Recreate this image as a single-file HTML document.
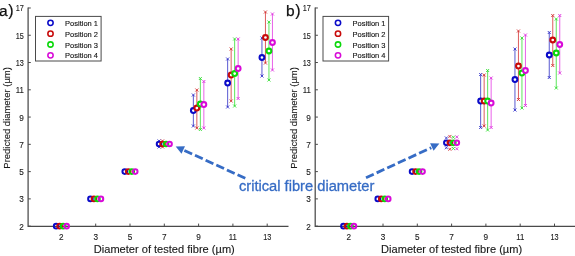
<!DOCTYPE html>
<html><head><meta charset="utf-8"><title>Predicted vs tested fibre diameter</title>
<style>
html,body{margin:0;padding:0;background:#fff;}
body{width:575px;height:256px;overflow:hidden;font-family:"Liberation Sans",sans-serif;}
svg{display:block;will-change:transform;transform:translateZ(0);font-family:"Liberation Sans",sans-serif;}
</style></head><body>
<svg width="575" height="256" viewBox="0 0 575 256">
<rect width="575" height="256" fill="#fff"/>
<path d="M28.1 7.49V226.3H288.5" fill="none" stroke="#4a4a4a" stroke-width="1.25"/>
<path d="M28.1 226.15h2.7" stroke="#4a4a4a" stroke-width="1"/>
<path d="M28.1 198.88h2.7" stroke="#4a4a4a" stroke-width="1"/>
<path d="M28.1 171.61h2.7" stroke="#4a4a4a" stroke-width="1"/>
<path d="M28.1 144.34h2.7" stroke="#4a4a4a" stroke-width="1"/>
<path d="M28.1 117.07h2.7" stroke="#4a4a4a" stroke-width="1"/>
<path d="M28.1 89.80h2.7" stroke="#4a4a4a" stroke-width="1"/>
<path d="M28.1 62.53h2.7" stroke="#4a4a4a" stroke-width="1"/>
<path d="M28.1 35.26h2.7" stroke="#4a4a4a" stroke-width="1"/>
<path d="M28.1 7.99h2.7" stroke="#4a4a4a" stroke-width="1"/>
<path d="M61.40 226.3v-2.7" stroke="#4a4a4a" stroke-width="1"/>
<path d="M95.70 226.3v-2.7" stroke="#4a4a4a" stroke-width="1"/>
<path d="M130.00 226.3v-2.7" stroke="#4a4a4a" stroke-width="1"/>
<path d="M164.30 226.3v-2.7" stroke="#4a4a4a" stroke-width="1"/>
<path d="M198.60 226.3v-2.7" stroke="#4a4a4a" stroke-width="1"/>
<path d="M232.90 226.3v-2.7" stroke="#4a4a4a" stroke-width="1"/>
<path d="M267.20 226.3v-2.7" stroke="#4a4a4a" stroke-width="1"/>
<text x="23.8" y="229.65" text-anchor="end" font-size="8.2" fill="#1a1a1a" stroke="#1a1a1a" stroke-width="0.12">2</text>
<text x="23.8" y="202.38" text-anchor="end" font-size="8.2" fill="#1a1a1a" stroke="#1a1a1a" stroke-width="0.12">3</text>
<text x="23.8" y="175.11" text-anchor="end" font-size="8.2" fill="#1a1a1a" stroke="#1a1a1a" stroke-width="0.12">5</text>
<text x="23.8" y="147.84" text-anchor="end" font-size="8.2" fill="#1a1a1a" stroke="#1a1a1a" stroke-width="0.12">7</text>
<text x="23.8" y="120.57" text-anchor="end" font-size="8.2" fill="#1a1a1a" stroke="#1a1a1a" stroke-width="0.12">9</text>
<text x="23.8" y="93.30" text-anchor="end" font-size="8.2" fill="#1a1a1a" stroke="#1a1a1a" stroke-width="0.12" textLength="8.1" lengthAdjust="spacingAndGlyphs">11</text>
<text x="23.8" y="66.03" text-anchor="end" font-size="8.2" fill="#1a1a1a" stroke="#1a1a1a" stroke-width="0.12" textLength="8.1" lengthAdjust="spacingAndGlyphs">13</text>
<text x="23.8" y="38.76" text-anchor="end" font-size="8.2" fill="#1a1a1a" stroke="#1a1a1a" stroke-width="0.12" textLength="8.1" lengthAdjust="spacingAndGlyphs">15</text>
<text x="23.8" y="11.49" text-anchor="end" font-size="8.2" fill="#1a1a1a" stroke="#1a1a1a" stroke-width="0.12" textLength="8.1" lengthAdjust="spacingAndGlyphs">17</text>
<text x="61.40" y="239.9" text-anchor="middle" font-size="8.2" fill="#1a1a1a" stroke="#1a1a1a" stroke-width="0.12">2</text>
<text x="95.70" y="239.9" text-anchor="middle" font-size="8.2" fill="#1a1a1a" stroke="#1a1a1a" stroke-width="0.12">3</text>
<text x="130.00" y="239.9" text-anchor="middle" font-size="8.2" fill="#1a1a1a" stroke="#1a1a1a" stroke-width="0.12">5</text>
<text x="164.30" y="239.9" text-anchor="middle" font-size="8.2" fill="#1a1a1a" stroke="#1a1a1a" stroke-width="0.12">7</text>
<text x="198.60" y="239.9" text-anchor="middle" font-size="8.2" fill="#1a1a1a" stroke="#1a1a1a" stroke-width="0.12">9</text>
<text x="232.90" y="239.9" text-anchor="middle" font-size="8.2" fill="#1a1a1a" stroke="#1a1a1a" stroke-width="0.12" textLength="8.1" lengthAdjust="spacingAndGlyphs">11</text>
<text x="267.20" y="239.9" text-anchor="middle" font-size="8.2" fill="#1a1a1a" stroke="#1a1a1a" stroke-width="0.12" textLength="8.1" lengthAdjust="spacingAndGlyphs">13</text>
<text x="164.30" y="253.0" text-anchor="middle" font-size="10.2" fill="#1a1a1a" stroke="#1a1a1a" stroke-width="0.12" textLength="141" lengthAdjust="spacingAndGlyphs">Diameter of tested fibre (µm)</text>
<text transform="translate(10.3 117.9) rotate(-90)" text-anchor="middle" font-size="9.2" fill="#1a1a1a" stroke="#1a1a1a" stroke-width="0.12" textLength="101.5" lengthAdjust="spacingAndGlyphs">Predicted diameter (µm)</text>
<text x="-1.0" y="15.6" font-size="15.5" fill="#111" stroke="#111" stroke-width="0.25">a</text>
<text x="8.3" y="15.9" font-size="16" fill="#111" stroke="#111" stroke-width="0.2">)</text>
<path d="M193.35 95V126" stroke="#4646cc" stroke-width="0.9"/>
<path d="M191.85 93.5l3 3m0 -3l-3 3" stroke="#2828c8" stroke-width="0.85" fill="none"/>
<path d="M191.85 124.5l3 3m0 -3l-3 3" stroke="#2828c8" stroke-width="0.85" fill="none"/>
<path d="M196.85 90V128" stroke="#d84a4a" stroke-width="0.9"/>
<path d="M195.35 88.5l3 3m0 -3l-3 3" stroke="#d02828" stroke-width="0.85" fill="none"/>
<path d="M195.35 126.5l3 3m0 -3l-3 3" stroke="#d02828" stroke-width="0.85" fill="none"/>
<path d="M200.35 78.5V129.5" stroke="#4ae24a" stroke-width="0.9"/>
<path d="M198.85 77.0l3 3m0 -3l-3 3" stroke="#28dc28" stroke-width="0.85" fill="none"/>
<path d="M198.85 128.0l3 3m0 -3l-3 3" stroke="#28dc28" stroke-width="0.85" fill="none"/>
<path d="M203.85 81.5V128" stroke="#e650e6" stroke-width="0.9"/>
<path d="M202.35 80.0l3 3m0 -3l-3 3" stroke="#dc28dc" stroke-width="0.85" fill="none"/>
<path d="M202.35 126.5l3 3m0 -3l-3 3" stroke="#dc28dc" stroke-width="0.85" fill="none"/>
<path d="M227.65 59V107" stroke="#4646cc" stroke-width="0.9"/>
<path d="M226.15 57.5l3 3m0 -3l-3 3" stroke="#2828c8" stroke-width="0.85" fill="none"/>
<path d="M226.15 105.5l3 3m0 -3l-3 3" stroke="#2828c8" stroke-width="0.85" fill="none"/>
<path d="M231.15 49V101" stroke="#d84a4a" stroke-width="0.9"/>
<path d="M229.65 47.5l3 3m0 -3l-3 3" stroke="#d02828" stroke-width="0.85" fill="none"/>
<path d="M229.65 99.5l3 3m0 -3l-3 3" stroke="#d02828" stroke-width="0.85" fill="none"/>
<path d="M234.65 39V106" stroke="#4ae24a" stroke-width="0.9"/>
<path d="M233.15 37.5l3 3m0 -3l-3 3" stroke="#28dc28" stroke-width="0.85" fill="none"/>
<path d="M233.15 104.5l3 3m0 -3l-3 3" stroke="#28dc28" stroke-width="0.85" fill="none"/>
<path d="M238.15 39V98.5" stroke="#e650e6" stroke-width="0.9"/>
<path d="M236.65 37.5l3 3m0 -3l-3 3" stroke="#dc28dc" stroke-width="0.85" fill="none"/>
<path d="M236.65 97.0l3 3m0 -3l-3 3" stroke="#dc28dc" stroke-width="0.85" fill="none"/>
<path d="M261.95 38V76" stroke="#4646cc" stroke-width="0.9"/>
<path d="M260.45 36.5l3 3m0 -3l-3 3" stroke="#2828c8" stroke-width="0.85" fill="none"/>
<path d="M260.45 74.5l3 3m0 -3l-3 3" stroke="#2828c8" stroke-width="0.85" fill="none"/>
<path d="M265.45 12V63" stroke="#d84a4a" stroke-width="0.9"/>
<path d="M263.95 10.5l3 3m0 -3l-3 3" stroke="#d02828" stroke-width="0.85" fill="none"/>
<path d="M263.95 61.5l3 3m0 -3l-3 3" stroke="#d02828" stroke-width="0.85" fill="none"/>
<path d="M268.95 22V80" stroke="#4ae24a" stroke-width="0.9"/>
<path d="M267.45 20.5l3 3m0 -3l-3 3" stroke="#28dc28" stroke-width="0.85" fill="none"/>
<path d="M267.45 78.5l3 3m0 -3l-3 3" stroke="#28dc28" stroke-width="0.85" fill="none"/>
<path d="M272.45 14V70" stroke="#e650e6" stroke-width="0.9"/>
<path d="M270.95 12.5l3 3m0 -3l-3 3" stroke="#dc28dc" stroke-width="0.85" fill="none"/>
<path d="M270.95 68.5l3 3m0 -3l-3 3" stroke="#dc28dc" stroke-width="0.85" fill="none"/>
<path d="M157.55 139.44l3 3m0 -3l-3 3" stroke="#2828c8" stroke-width="0.85" fill="none"/>
<path d="M157.55 145.44l3 3m0 -3l-3 3" stroke="#2828c8" stroke-width="0.85" fill="none"/>
<path d="M161.05 139.44l3 3m0 -3l-3 3" stroke="#d02828" stroke-width="0.85" fill="none"/>
<path d="M161.05 145.44l3 3m0 -3l-3 3" stroke="#d02828" stroke-width="0.85" fill="none"/>
<circle cx="56.15" cy="226.15" r="2.3" fill="none" stroke="#0a0ac8" stroke-width="2.0"/>
<circle cx="59.65" cy="226.15" r="2.3" fill="none" stroke="#c80a0a" stroke-width="2.0"/>
<circle cx="63.15" cy="226.15" r="2.3" fill="none" stroke="#0ad80a" stroke-width="2.0"/>
<circle cx="66.65" cy="226.15" r="2.3" fill="none" stroke="#d80ad8" stroke-width="2.0"/>
<circle cx="90.45" cy="198.88" r="2.3" fill="none" stroke="#0a0ac8" stroke-width="2.0"/>
<circle cx="93.95" cy="198.88" r="2.3" fill="none" stroke="#c80a0a" stroke-width="2.0"/>
<circle cx="97.45" cy="198.88" r="2.3" fill="none" stroke="#0ad80a" stroke-width="2.0"/>
<circle cx="100.95" cy="198.88" r="2.3" fill="none" stroke="#d80ad8" stroke-width="2.0"/>
<circle cx="124.75" cy="171.61" r="2.3" fill="none" stroke="#0a0ac8" stroke-width="2.0"/>
<circle cx="128.25" cy="171.61" r="2.3" fill="none" stroke="#c80a0a" stroke-width="2.0"/>
<circle cx="131.75" cy="171.61" r="2.3" fill="none" stroke="#0ad80a" stroke-width="2.0"/>
<circle cx="135.25" cy="171.61" r="2.3" fill="none" stroke="#d80ad8" stroke-width="2.0"/>
<circle cx="159.05" cy="143.94" r="2.3" fill="none" stroke="#0a0ac8" stroke-width="2.0"/>
<circle cx="162.55" cy="143.94" r="2.3" fill="none" stroke="#c80a0a" stroke-width="2.0"/>
<circle cx="166.05" cy="143.94" r="2.3" fill="none" stroke="#0ad80a" stroke-width="2.0"/>
<circle cx="169.55" cy="143.94" r="2.3" fill="none" stroke="#d80ad8" stroke-width="2.0"/>
<circle cx="193.35" cy="110.5" r="2.4" fill="#fff" stroke="#0a0ac8" stroke-width="2.05"/>
<circle cx="196.85" cy="108" r="2.4" fill="#fff" stroke="#c80a0a" stroke-width="2.05"/>
<circle cx="200.35" cy="104" r="2.4" fill="#fff" stroke="#0ad80a" stroke-width="2.05"/>
<circle cx="203.85" cy="104.5" r="2.4" fill="#fff" stroke="#d80ad8" stroke-width="2.05"/>
<circle cx="227.65" cy="83" r="2.4" fill="#fff" stroke="#0a0ac8" stroke-width="2.05"/>
<circle cx="231.15" cy="75" r="2.4" fill="#fff" stroke="#c80a0a" stroke-width="2.05"/>
<circle cx="234.65" cy="73.5" r="2.4" fill="#fff" stroke="#0ad80a" stroke-width="2.05"/>
<circle cx="238.15" cy="68.5" r="2.4" fill="#fff" stroke="#d80ad8" stroke-width="2.05"/>
<circle cx="261.95" cy="57.5" r="2.4" fill="#fff" stroke="#0a0ac8" stroke-width="2.05"/>
<circle cx="265.45" cy="37.5" r="2.4" fill="#fff" stroke="#c80a0a" stroke-width="2.05"/>
<circle cx="268.95" cy="51" r="2.4" fill="#fff" stroke="#0ad80a" stroke-width="2.05"/>
<circle cx="272.45" cy="42.5" r="2.4" fill="#fff" stroke="#d80ad8" stroke-width="2.05"/>
<rect x="35.5" y="16.4" width="65.6" height="44.6" fill="#fff" stroke="#4a4a4a" stroke-width="1"/>
<circle cx="50.5" cy="22.80" r="2.65" fill="none" stroke="#0a0ac8" stroke-width="1.55"/>
<text x="65.1" y="25.80" font-size="7.5" fill="#111" stroke="#111" stroke-width="0.12">Position 1</text>
<circle cx="50.5" cy="33.65" r="2.65" fill="none" stroke="#c80a0a" stroke-width="1.55"/>
<text x="65.1" y="36.65" font-size="7.5" fill="#111" stroke="#111" stroke-width="0.12">Position 2</text>
<circle cx="50.5" cy="44.50" r="2.65" fill="none" stroke="#0ad80a" stroke-width="1.55"/>
<text x="65.1" y="47.50" font-size="7.5" fill="#111" stroke="#111" stroke-width="0.12">Position 3</text>
<circle cx="50.5" cy="55.35" r="2.65" fill="none" stroke="#d80ad8" stroke-width="1.55"/>
<text x="65.1" y="58.35" font-size="7.5" fill="#111" stroke="#111" stroke-width="0.12">Position 4</text>
<path d="M315.2 7.49V226.3H575" fill="none" stroke="#4a4a4a" stroke-width="1.25"/>
<path d="M315.2 226.15h2.7" stroke="#4a4a4a" stroke-width="1"/>
<path d="M315.2 198.88h2.7" stroke="#4a4a4a" stroke-width="1"/>
<path d="M315.2 171.61h2.7" stroke="#4a4a4a" stroke-width="1"/>
<path d="M315.2 144.34h2.7" stroke="#4a4a4a" stroke-width="1"/>
<path d="M315.2 117.07h2.7" stroke="#4a4a4a" stroke-width="1"/>
<path d="M315.2 89.80h2.7" stroke="#4a4a4a" stroke-width="1"/>
<path d="M315.2 62.53h2.7" stroke="#4a4a4a" stroke-width="1"/>
<path d="M315.2 35.26h2.7" stroke="#4a4a4a" stroke-width="1"/>
<path d="M315.2 7.99h2.7" stroke="#4a4a4a" stroke-width="1"/>
<path d="M348.70 226.3v-2.7" stroke="#4a4a4a" stroke-width="1"/>
<path d="M383.00 226.3v-2.7" stroke="#4a4a4a" stroke-width="1"/>
<path d="M417.30 226.3v-2.7" stroke="#4a4a4a" stroke-width="1"/>
<path d="M451.60 226.3v-2.7" stroke="#4a4a4a" stroke-width="1"/>
<path d="M485.90 226.3v-2.7" stroke="#4a4a4a" stroke-width="1"/>
<path d="M520.20 226.3v-2.7" stroke="#4a4a4a" stroke-width="1"/>
<path d="M554.50 226.3v-2.7" stroke="#4a4a4a" stroke-width="1"/>
<text x="310.9" y="229.65" text-anchor="end" font-size="8.2" fill="#1a1a1a" stroke="#1a1a1a" stroke-width="0.12">2</text>
<text x="310.9" y="202.38" text-anchor="end" font-size="8.2" fill="#1a1a1a" stroke="#1a1a1a" stroke-width="0.12">3</text>
<text x="310.9" y="175.11" text-anchor="end" font-size="8.2" fill="#1a1a1a" stroke="#1a1a1a" stroke-width="0.12">5</text>
<text x="310.9" y="147.84" text-anchor="end" font-size="8.2" fill="#1a1a1a" stroke="#1a1a1a" stroke-width="0.12">7</text>
<text x="310.9" y="120.57" text-anchor="end" font-size="8.2" fill="#1a1a1a" stroke="#1a1a1a" stroke-width="0.12">9</text>
<text x="310.9" y="93.30" text-anchor="end" font-size="8.2" fill="#1a1a1a" stroke="#1a1a1a" stroke-width="0.12" textLength="8.1" lengthAdjust="spacingAndGlyphs">11</text>
<text x="310.9" y="66.03" text-anchor="end" font-size="8.2" fill="#1a1a1a" stroke="#1a1a1a" stroke-width="0.12" textLength="8.1" lengthAdjust="spacingAndGlyphs">13</text>
<text x="310.9" y="38.76" text-anchor="end" font-size="8.2" fill="#1a1a1a" stroke="#1a1a1a" stroke-width="0.12" textLength="8.1" lengthAdjust="spacingAndGlyphs">15</text>
<text x="310.9" y="11.49" text-anchor="end" font-size="8.2" fill="#1a1a1a" stroke="#1a1a1a" stroke-width="0.12" textLength="8.1" lengthAdjust="spacingAndGlyphs">17</text>
<text x="348.70" y="239.9" text-anchor="middle" font-size="8.2" fill="#1a1a1a" stroke="#1a1a1a" stroke-width="0.12">2</text>
<text x="383.00" y="239.9" text-anchor="middle" font-size="8.2" fill="#1a1a1a" stroke="#1a1a1a" stroke-width="0.12">3</text>
<text x="417.30" y="239.9" text-anchor="middle" font-size="8.2" fill="#1a1a1a" stroke="#1a1a1a" stroke-width="0.12">5</text>
<text x="451.60" y="239.9" text-anchor="middle" font-size="8.2" fill="#1a1a1a" stroke="#1a1a1a" stroke-width="0.12">7</text>
<text x="485.90" y="239.9" text-anchor="middle" font-size="8.2" fill="#1a1a1a" stroke="#1a1a1a" stroke-width="0.12">9</text>
<text x="520.20" y="239.9" text-anchor="middle" font-size="8.2" fill="#1a1a1a" stroke="#1a1a1a" stroke-width="0.12" textLength="8.1" lengthAdjust="spacingAndGlyphs">11</text>
<text x="554.50" y="239.9" text-anchor="middle" font-size="8.2" fill="#1a1a1a" stroke="#1a1a1a" stroke-width="0.12" textLength="8.1" lengthAdjust="spacingAndGlyphs">13</text>
<text x="451.60" y="253.0" text-anchor="middle" font-size="10.2" fill="#1a1a1a" stroke="#1a1a1a" stroke-width="0.12" textLength="141" lengthAdjust="spacingAndGlyphs">Diameter of tested fibre (µm)</text>
<text transform="translate(297.0 117.9) rotate(-90)" text-anchor="middle" font-size="9.2" fill="#1a1a1a" stroke="#1a1a1a" stroke-width="0.12" textLength="101.5" lengthAdjust="spacingAndGlyphs">Predicted diameter (µm)</text>
<text x="286.0" y="15.6" font-size="15.5" fill="#111" stroke="#111" stroke-width="0.25">b</text>
<text x="295.3" y="15.9" font-size="16" fill="#111" stroke="#111" stroke-width="0.2">)</text>
<path d="M480.65 74.5V127.5" stroke="#4646cc" stroke-width="0.9"/>
<path d="M479.15 73.0l3 3m0 -3l-3 3" stroke="#2828c8" stroke-width="0.85" fill="none"/>
<path d="M479.15 126.0l3 3m0 -3l-3 3" stroke="#2828c8" stroke-width="0.85" fill="none"/>
<path d="M484.15 75V126" stroke="#d84a4a" stroke-width="0.9"/>
<path d="M482.65 73.5l3 3m0 -3l-3 3" stroke="#d02828" stroke-width="0.85" fill="none"/>
<path d="M482.65 124.5l3 3m0 -3l-3 3" stroke="#d02828" stroke-width="0.85" fill="none"/>
<path d="M487.65 70.5V130" stroke="#4ae24a" stroke-width="0.9"/>
<path d="M486.15 69.0l3 3m0 -3l-3 3" stroke="#28dc28" stroke-width="0.85" fill="none"/>
<path d="M486.15 128.5l3 3m0 -3l-3 3" stroke="#28dc28" stroke-width="0.85" fill="none"/>
<path d="M491.15 78V127.5" stroke="#e650e6" stroke-width="0.9"/>
<path d="M489.65 76.5l3 3m0 -3l-3 3" stroke="#dc28dc" stroke-width="0.85" fill="none"/>
<path d="M489.65 126.0l3 3m0 -3l-3 3" stroke="#dc28dc" stroke-width="0.85" fill="none"/>
<path d="M514.95 49V110" stroke="#4646cc" stroke-width="0.9"/>
<path d="M513.45 47.5l3 3m0 -3l-3 3" stroke="#2828c8" stroke-width="0.85" fill="none"/>
<path d="M513.45 108.5l3 3m0 -3l-3 3" stroke="#2828c8" stroke-width="0.85" fill="none"/>
<path d="M518.45 31V99.5" stroke="#d84a4a" stroke-width="0.9"/>
<path d="M516.95 29.5l3 3m0 -3l-3 3" stroke="#d02828" stroke-width="0.85" fill="none"/>
<path d="M516.95 98.0l3 3m0 -3l-3 3" stroke="#d02828" stroke-width="0.85" fill="none"/>
<path d="M521.95 38V108" stroke="#4ae24a" stroke-width="0.9"/>
<path d="M520.45 36.5l3 3m0 -3l-3 3" stroke="#28dc28" stroke-width="0.85" fill="none"/>
<path d="M520.45 106.5l3 3m0 -3l-3 3" stroke="#28dc28" stroke-width="0.85" fill="none"/>
<path d="M525.45 35V105.5" stroke="#e650e6" stroke-width="0.9"/>
<path d="M523.95 33.5l3 3m0 -3l-3 3" stroke="#dc28dc" stroke-width="0.85" fill="none"/>
<path d="M523.95 104.0l3 3m0 -3l-3 3" stroke="#dc28dc" stroke-width="0.85" fill="none"/>
<path d="M549.25 32.5V77.5" stroke="#4646cc" stroke-width="0.9"/>
<path d="M547.75 31.0l3 3m0 -3l-3 3" stroke="#2828c8" stroke-width="0.85" fill="none"/>
<path d="M547.75 76.0l3 3m0 -3l-3 3" stroke="#2828c8" stroke-width="0.85" fill="none"/>
<path d="M552.75 15.5V65.5" stroke="#d84a4a" stroke-width="0.9"/>
<path d="M551.25 14.0l3 3m0 -3l-3 3" stroke="#d02828" stroke-width="0.85" fill="none"/>
<path d="M551.25 64.0l3 3m0 -3l-3 3" stroke="#d02828" stroke-width="0.85" fill="none"/>
<path d="M556.25 19V88" stroke="#4ae24a" stroke-width="0.9"/>
<path d="M554.75 17.5l3 3m0 -3l-3 3" stroke="#28dc28" stroke-width="0.85" fill="none"/>
<path d="M554.75 86.5l3 3m0 -3l-3 3" stroke="#28dc28" stroke-width="0.85" fill="none"/>
<path d="M559.75 15.5V73" stroke="#e650e6" stroke-width="0.9"/>
<path d="M558.25 14.0l3 3m0 -3l-3 3" stroke="#dc28dc" stroke-width="0.85" fill="none"/>
<path d="M558.25 71.5l3 3m0 -3l-3 3" stroke="#dc28dc" stroke-width="0.85" fill="none"/>
<path d="M444.85 136.44l3 3m0 -3l-3 3" stroke="#2828c8" stroke-width="0.85" fill="none"/>
<path d="M444.85 146.24l3 3m0 -3l-3 3" stroke="#2828c8" stroke-width="0.85" fill="none"/>
<path d="M448.35 134.94l3 3m0 -3l-3 3" stroke="#d02828" stroke-width="0.85" fill="none"/>
<path d="M448.35 147.74l3 3m0 -3l-3 3" stroke="#d02828" stroke-width="0.85" fill="none"/>
<path d="M451.85 135.74l3 3m0 -3l-3 3" stroke="#28dc28" stroke-width="0.85" fill="none"/>
<path d="M451.85 146.94l3 3m0 -3l-3 3" stroke="#28dc28" stroke-width="0.85" fill="none"/>
<path d="M455.35 135.44l3 3m0 -3l-3 3" stroke="#dc28dc" stroke-width="0.85" fill="none"/>
<path d="M455.35 147.24l3 3m0 -3l-3 3" stroke="#dc28dc" stroke-width="0.85" fill="none"/>
<circle cx="343.45" cy="226.15" r="2.3" fill="none" stroke="#0a0ac8" stroke-width="2.0"/>
<circle cx="346.95" cy="226.15" r="2.3" fill="none" stroke="#c80a0a" stroke-width="2.0"/>
<circle cx="350.45" cy="226.15" r="2.3" fill="none" stroke="#0ad80a" stroke-width="2.0"/>
<circle cx="353.95" cy="226.15" r="2.3" fill="none" stroke="#d80ad8" stroke-width="2.0"/>
<circle cx="377.75" cy="198.88" r="2.3" fill="none" stroke="#0a0ac8" stroke-width="2.0"/>
<circle cx="381.25" cy="198.88" r="2.3" fill="none" stroke="#c80a0a" stroke-width="2.0"/>
<circle cx="384.75" cy="198.88" r="2.3" fill="none" stroke="#0ad80a" stroke-width="2.0"/>
<circle cx="388.25" cy="198.88" r="2.3" fill="none" stroke="#d80ad8" stroke-width="2.0"/>
<circle cx="412.05" cy="171.61" r="2.3" fill="none" stroke="#0a0ac8" stroke-width="2.0"/>
<circle cx="415.55" cy="171.61" r="2.3" fill="none" stroke="#c80a0a" stroke-width="2.0"/>
<circle cx="419.05" cy="171.61" r="2.3" fill="none" stroke="#0ad80a" stroke-width="2.0"/>
<circle cx="422.55" cy="171.61" r="2.3" fill="none" stroke="#d80ad8" stroke-width="2.0"/>
<circle cx="446.35" cy="142.84" r="2.3" fill="none" stroke="#0a0ac8" stroke-width="2.0"/>
<circle cx="449.85" cy="142.84" r="2.3" fill="none" stroke="#c80a0a" stroke-width="2.0"/>
<circle cx="453.35" cy="142.84" r="2.3" fill="none" stroke="#0ad80a" stroke-width="2.0"/>
<circle cx="456.85" cy="142.84" r="2.3" fill="none" stroke="#d80ad8" stroke-width="2.0"/>
<circle cx="480.65" cy="101" r="2.4" fill="#fff" stroke="#0a0ac8" stroke-width="2.05"/>
<circle cx="484.15" cy="101" r="2.4" fill="#fff" stroke="#c80a0a" stroke-width="2.05"/>
<circle cx="487.65" cy="101" r="2.4" fill="#fff" stroke="#0ad80a" stroke-width="2.05"/>
<circle cx="491.15" cy="103" r="2.4" fill="#fff" stroke="#d80ad8" stroke-width="2.05"/>
<circle cx="514.95" cy="79.5" r="2.4" fill="#fff" stroke="#0a0ac8" stroke-width="2.05"/>
<circle cx="518.45" cy="66" r="2.4" fill="#fff" stroke="#c80a0a" stroke-width="2.05"/>
<circle cx="521.95" cy="73" r="2.4" fill="#fff" stroke="#0ad80a" stroke-width="2.05"/>
<circle cx="525.45" cy="70.5" r="2.4" fill="#fff" stroke="#d80ad8" stroke-width="2.05"/>
<circle cx="549.25" cy="55" r="2.4" fill="#fff" stroke="#0a0ac8" stroke-width="2.05"/>
<circle cx="552.75" cy="40" r="2.4" fill="#fff" stroke="#c80a0a" stroke-width="2.05"/>
<circle cx="556.25" cy="53" r="2.4" fill="#fff" stroke="#0ad80a" stroke-width="2.05"/>
<circle cx="559.75" cy="44.5" r="2.4" fill="#fff" stroke="#d80ad8" stroke-width="2.05"/>
<rect x="323.0" y="16.4" width="65.6" height="44.6" fill="#fff" stroke="#4a4a4a" stroke-width="1"/>
<circle cx="338.0" cy="22.80" r="2.65" fill="none" stroke="#0a0ac8" stroke-width="1.55"/>
<text x="352.6" y="25.80" font-size="7.5" fill="#111" stroke="#111" stroke-width="0.12">Position 1</text>
<circle cx="338.0" cy="33.65" r="2.65" fill="none" stroke="#c80a0a" stroke-width="1.55"/>
<text x="352.6" y="36.65" font-size="7.5" fill="#111" stroke="#111" stroke-width="0.12">Position 2</text>
<circle cx="338.0" cy="44.50" r="2.65" fill="none" stroke="#0ad80a" stroke-width="1.55"/>
<text x="352.6" y="47.50" font-size="7.5" fill="#111" stroke="#111" stroke-width="0.12">Position 3</text>
<circle cx="338.0" cy="55.35" r="2.65" fill="none" stroke="#d80ad8" stroke-width="1.55"/>
<text x="352.6" y="58.35" font-size="7.5" fill="#111" stroke="#111" stroke-width="0.12">Position 4</text>
<path d="M245.3 178.3L183.4 150.0" stroke="#366cc5" stroke-width="2.8" stroke-dasharray="8.5 3.2" fill="none"/>
<path d="M175.7 146.5L184.97 146.18L181.51 153.72z" fill="#366cc5"/>
<path d="M366 177.8L431.3 147.65" stroke="#366cc5" stroke-width="2.8" stroke-dasharray="8.5 3.2" fill="none"/>
<path d="M439.4 143.6L430.1 143.3L433.6 150.85z" fill="#366cc5"/>
<text x="238.9" y="190.9" font-size="15.2" fill="#366cc5" stroke="#366cc5" stroke-width="0.3" textLength="135.5" lengthAdjust="spacingAndGlyphs">critical fibre diameter</text>
</svg>
</body></html>
